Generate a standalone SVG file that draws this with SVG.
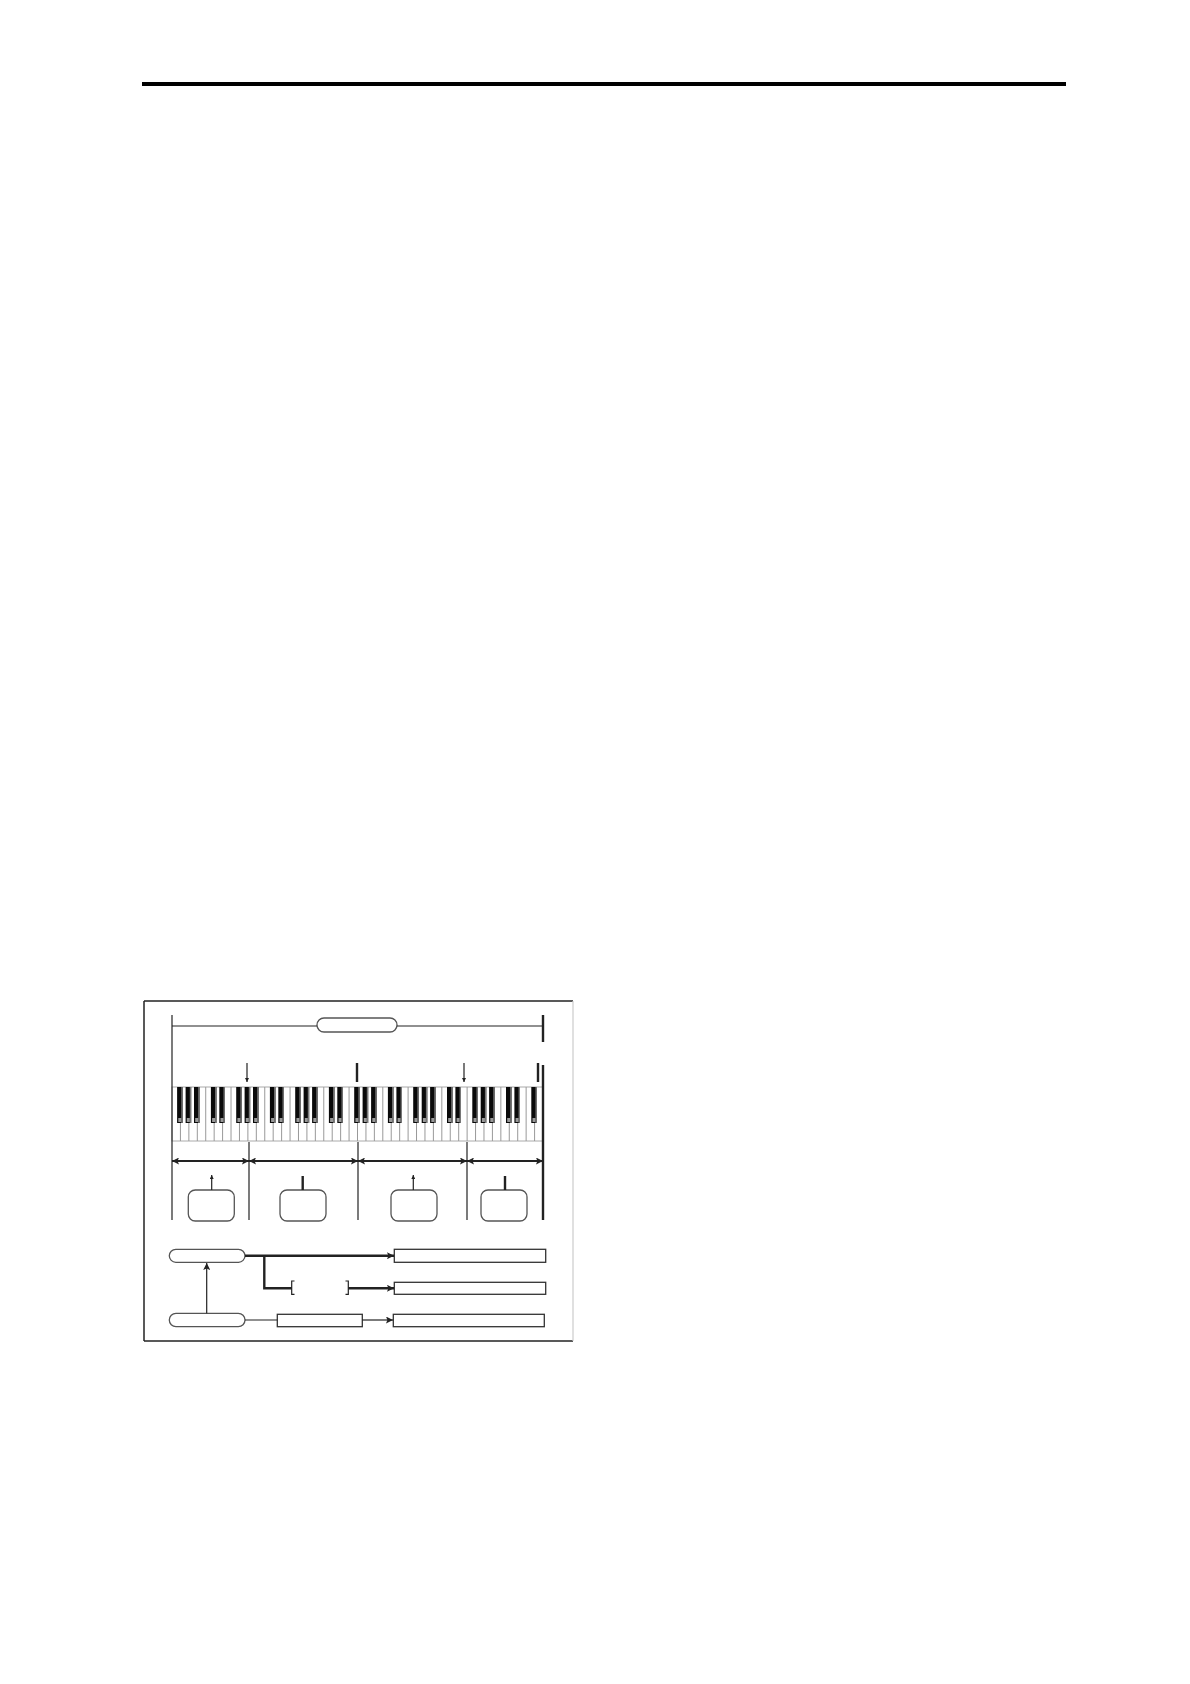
<svg xmlns="http://www.w3.org/2000/svg" width="1190" height="1684" viewBox="0 0 1190 1684">
<style>
.ln{stroke:#222;stroke-width:1.2;fill:none}
.th{stroke:#222;stroke-width:2.4;fill:none}
.dbl{stroke:#222;stroke-width:2;fill:none}
.box{fill:#fff;stroke:#333;stroke-width:1.3}
.pill{fill:#fff;stroke:#555;stroke-width:1.3}
.rb{fill:#fff;stroke:#555;stroke-width:1.3}
.wk{stroke:#999;stroke-width:1}
</style>
<defs>
<marker id="ah" viewBox="0 0 10 10" refX="10" refY="5" markerWidth="7" markerHeight="7" orient="auto-start-reverse" markerUnits="userSpaceOnUse"><path d="M0,0 L10,5 L0,10 L2,5 Z" fill="#222"/></marker>
<marker id="ahs" viewBox="0 0 10 10" refX="10" refY="5" markerWidth="4" markerHeight="4" orient="auto" markerUnits="userSpaceOnUse"><path d="M0,0 L10,5 L0,10 Z" fill="#222"/></marker>
<g id="bk"><rect x="0" y="1087" width="5.6" height="36" fill="#0a0a0a"/><rect x="4.2" y="1087" width="1.4" height="36" fill="#777"/><rect x="1.2" y="1118" width="3" height="4" fill="#999"/></g>
</defs>
<rect x="142" y="82" width="924" height="4" fill="#000"/>
<g id="frame">
<line x1="144" y1="1001" x2="573" y2="1001" stroke="#222" stroke-width="1.5"/>
<line x1="144" y1="1001" x2="144" y2="1341" stroke="#222" stroke-width="1.5"/>
<line x1="144" y1="1341" x2="573" y2="1341" stroke="#222" stroke-width="1.5"/>
<line x1="573" y1="1001" x2="573" y2="1341" stroke="#ccc" stroke-width="1.2"/>
</g>
<g id="keyboard">
<rect x="172" y="1087" width="371" height="54" fill="#fff" stroke="#aaa" stroke-width="1"/>
<g class="wk">
<line x1="180.43" y1="1087" x2="180.43" y2="1141"/><line x1="188.86" y1="1087" x2="188.86" y2="1141"/><line x1="197.30" y1="1087" x2="197.30" y2="1141"/><line x1="205.73" y1="1087" x2="205.73" y2="1141"/><line x1="214.16" y1="1087" x2="214.16" y2="1141"/><line x1="222.59" y1="1087" x2="222.59" y2="1141"/><line x1="231.02" y1="1087" x2="231.02" y2="1141"/><line x1="239.46" y1="1087" x2="239.46" y2="1141"/><line x1="247.89" y1="1087" x2="247.89" y2="1141"/><line x1="256.32" y1="1087" x2="256.32" y2="1141"/><line x1="264.75" y1="1087" x2="264.75" y2="1141"/><line x1="273.18" y1="1087" x2="273.18" y2="1141"/><line x1="281.62" y1="1087" x2="281.62" y2="1141"/><line x1="290.05" y1="1087" x2="290.05" y2="1141"/><line x1="298.48" y1="1087" x2="298.48" y2="1141"/><line x1="306.91" y1="1087" x2="306.91" y2="1141"/><line x1="315.35" y1="1087" x2="315.35" y2="1141"/><line x1="323.78" y1="1087" x2="323.78" y2="1141"/><line x1="332.21" y1="1087" x2="332.21" y2="1141"/><line x1="340.64" y1="1087" x2="340.64" y2="1141"/><line x1="349.07" y1="1087" x2="349.07" y2="1141"/><line x1="357.50" y1="1087" x2="357.50" y2="1141"/><line x1="365.94" y1="1087" x2="365.94" y2="1141"/><line x1="374.37" y1="1087" x2="374.37" y2="1141"/><line x1="382.80" y1="1087" x2="382.80" y2="1141"/><line x1="391.23" y1="1087" x2="391.23" y2="1141"/><line x1="399.66" y1="1087" x2="399.66" y2="1141"/><line x1="408.10" y1="1087" x2="408.10" y2="1141"/><line x1="416.53" y1="1087" x2="416.53" y2="1141"/><line x1="424.96" y1="1087" x2="424.96" y2="1141"/><line x1="433.39" y1="1087" x2="433.39" y2="1141"/><line x1="441.82" y1="1087" x2="441.82" y2="1141"/><line x1="450.26" y1="1087" x2="450.26" y2="1141"/><line x1="458.69" y1="1087" x2="458.69" y2="1141"/><line x1="467.12" y1="1087" x2="467.12" y2="1141"/><line x1="475.55" y1="1087" x2="475.55" y2="1141"/><line x1="483.98" y1="1087" x2="483.98" y2="1141"/><line x1="492.42" y1="1087" x2="492.42" y2="1141"/><line x1="500.85" y1="1087" x2="500.85" y2="1141"/><line x1="509.28" y1="1087" x2="509.28" y2="1141"/><line x1="517.71" y1="1087" x2="517.71" y2="1141"/><line x1="526.14" y1="1087" x2="526.14" y2="1141"/><line x1="534.58" y1="1087" x2="534.58" y2="1141"/>
</g>
<use href="#bk" x="177.1"/><use href="#bk" x="185.6"/><use href="#bk" x="194.0"/><use href="#bk" x="210.9"/><use href="#bk" x="219.3"/><use href="#bk" x="236.2"/><use href="#bk" x="244.6"/><use href="#bk" x="253.0"/><use href="#bk" x="269.9"/><use href="#bk" x="278.3"/><use href="#bk" x="295.2"/><use href="#bk" x="303.6"/><use href="#bk" x="312.1"/><use href="#bk" x="328.9"/><use href="#bk" x="337.3"/><use href="#bk" x="354.2"/><use href="#bk" x="362.6"/><use href="#bk" x="371.1"/><use href="#bk" x="387.9"/><use href="#bk" x="396.4"/><use href="#bk" x="413.2"/><use href="#bk" x="421.7"/><use href="#bk" x="430.1"/><use href="#bk" x="447.0"/><use href="#bk" x="455.4"/><use href="#bk" x="472.3"/><use href="#bk" x="480.7"/><use href="#bk" x="489.1"/><use href="#bk" x="506.0"/><use href="#bk" x="514.4"/><use href="#bk" x="531.3"/>
</g>
<g id="range-label"><rect x="317" y="1018" width="80" height="14" rx="7" class="pill"/></g>
<g id="zone1"><rect x="188.3" y="1190" width="46" height="31" rx="7" class="rb"/></g>
<g id="zone2"><rect x="280" y="1190" width="46" height="31" rx="7" class="rb"/></g>
<g id="zone3"><rect x="391" y="1190" width="46" height="31" rx="7" class="rb"/></g>
<g id="zone4"><rect x="481" y="1190" width="46" height="31" rx="7" class="rb"/></g>
<g id="pill1"><rect x="169.3" y="1249.3" width="75.7" height="13" rx="6.5" class="pill"/></g>
<g id="pill2"><rect x="169.3" y="1313.3" width="75.7" height="13.4" rx="6.7" class="pill"/></g>
<g id="out1"><rect x="394.3" y="1249.3" width="151.4" height="13" class="box"/></g>
<g id="out2"><rect x="394.3" y="1282.3" width="151.4" height="12" class="box"/></g>
<g id="mid3"><rect x="277.3" y="1314.3" width="85" height="12.4" class="box"/></g>
<g id="out3"><rect x="393.3" y="1314.3" width="151" height="12.4" class="box"/></g>
<g id="bracket">
<path d="M294.5,1281 H291.7 V1294.3 H294.5" class="ln"/>
<path d="M345.5,1281 H348.3 V1294.3 H345.5" class="ln"/>
</g>
<g id="connectors">
<line x1="172" y1="1015" x2="172" y2="1220" class="ln"/>
<line x1="172" y1="1026" x2="317" y2="1026" class="ln"/>
<line x1="397" y1="1026" x2="543" y2="1026" class="ln"/>
<line x1="543" y1="1015" x2="543" y2="1042" class="th"/>
<line x1="543" y1="1065" x2="543" y2="1220" class="th"/>
<line x1="538" y1="1063" x2="538" y2="1082" class="th"/>
<line x1="357" y1="1063" x2="357" y2="1082" class="th"/>
<line x1="247" y1="1063" x2="247" y2="1082" class="ln" marker-end="url(#ahs)"/>
<line x1="464" y1="1063" x2="464" y2="1082" class="ln" marker-end="url(#ahs)"/>
<line x1="249" y1="1142" x2="249" y2="1220" class="ln"/>
<line x1="358" y1="1142" x2="358" y2="1220" class="ln"/>
<line x1="467" y1="1142" x2="467" y2="1220" class="ln"/>
<line x1="172" y1="1161" x2="249" y2="1161" class="dbl" marker-start="url(#ah)" marker-end="url(#ah)"/>
<line x1="249" y1="1161" x2="358" y2="1161" class="dbl" marker-start="url(#ah)" marker-end="url(#ah)"/>
<line x1="358" y1="1161" x2="467" y2="1161" class="dbl" marker-start="url(#ah)" marker-end="url(#ah)"/>
<line x1="467" y1="1161" x2="543" y2="1161" class="dbl" marker-start="url(#ah)" marker-end="url(#ah)"/>
<line x1="211.7" y1="1190" x2="211.7" y2="1175" class="ln" marker-end="url(#ahs)"/>
<line x1="302.7" y1="1190" x2="302.7" y2="1176" class="th"/>
<line x1="413.3" y1="1190" x2="413.3" y2="1175" class="ln" marker-end="url(#ahs)"/>
<line x1="505" y1="1190" x2="505" y2="1176" class="th"/>
<line x1="245" y1="1255.7" x2="394" y2="1255.7" class="th" marker-end="url(#ah)"/>
<path d="M264.3,1255.7 V1288.3 H291.7" class="th"/>
<line x1="348.3" y1="1288.3" x2="394" y2="1288.3" class="th" marker-end="url(#ah)"/>
<line x1="206.7" y1="1313.3" x2="206.7" y2="1263" class="ln" marker-end="url(#ah)"/>
<line x1="245" y1="1320" x2="277.3" y2="1320" class="ln"/>
<line x1="362.3" y1="1320" x2="393" y2="1320" class="ln" marker-end="url(#ah)"/>
</g>
</svg>
